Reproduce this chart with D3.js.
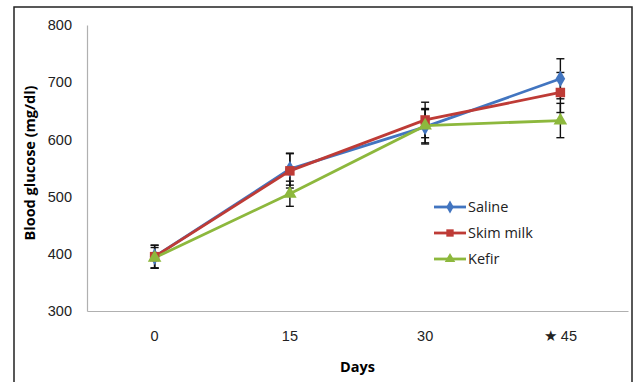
<!DOCTYPE html>
<html>
<head>
<meta charset="utf-8">
<script src="https://cdn.jsdelivr.net/npm/d3@7"></script>
<style>
  body { margin: 0; background: #fff; }
  svg { font-family: "Open Sans", "Noto Sans", sans-serif; }
</style>
</head>
<body>
<svg id="chart" width="643" height="382"></svg>
<script>
const days = ['0', '15', '30', '45'];
const seriesNames = ['Saline', 'Skim milk', 'Kefir'];
const saline = [395, 548, 622, 706];
const salineErr = [20, 28, 30, 35];
const skim = [395, 545, 634, 682];
const skimErr = [20, 30, 31, 35];
const kefir = [393, 505, 624, 633];
const kefirErr = [18, 22, 30, 30];
const yTicks = [300, 400, 500, 600, 700, 800];

const colors = ['#4275C0', '#BE3B36', '#8DB83D'];
const shapes = [d3.symbolDiamond, d3.symbolSquare, d3.symbolTriangle];
const sizes = [80, 90, 80];
const fontSize = 14.5;

const svg = d3.select('#chart');

// outer frame
svg.append('rect')
    .attr('x', 14).attr('y', 7)
    .attr('width', 618).attr('height', 380)
    .attr('fill', 'none')
    .attr('stroke', '#222')
    .attr('stroke-width', 1.5);

const plotLeft = 87, plotRight = 628, plotTop = 25, plotBottom = 311;

const x = d3.scaleBand().domain(days).range([plotLeft, plotRight]);
const y = d3.scaleLinear().domain([300, 800]).range([plotBottom, plotTop]);

// axes
const yAxis = svg.append('g')
    .attr('transform', `translate(${plotLeft},0)`)
    .call(d3.axisLeft(y).tickValues(yTicks).tickSize(0).tickPadding(15));
yAxis.select('.domain').attr('stroke', '#b0b0b0').attr('stroke-width', 1.2);
yAxis.selectAll('text').attr('font-size', fontSize).attr('fill', '#222');

const xAxis = svg.append('g')
    .attr('transform', `translate(0,${plotBottom})`)
    .call(d3.axisBottom(x).tickSize(0).tickPadding(20)
        .tickFormat(d => d === '45' ? '\u2605 45' : d));
xAxis.select('.domain').attr('stroke', '#b0b0b0').attr('stroke-width', 1.2);
xAxis.selectAll('text').attr('font-size', fontSize).attr('fill', '#222');

// axis titles
svg.append('text')
    .attr('x', (plotLeft + plotRight) / 2).attr('y', 372)
    .attr('text-anchor', 'middle')
    .attr('font-size', fontSize).attr('font-weight', 'bold')
    .text('Days');

svg.append('text')
    .attr('transform', `translate(35,${(plotTop + plotBottom) / 2 - 5}) rotate(-90)`)
    .attr('text-anchor', 'middle')
    .attr('font-size', fontSize).attr('font-weight', 'bold')
    .text('Blood glucose (mg/dl)');

const series = [
    { name: seriesNames[0], values: saline, err: salineErr },
    { name: seriesNames[1], values: skim, err: skimErr },
    { name: seriesNames[2], values: kefir, err: kefirErr }
];

const cx = d => x(d) + x.bandwidth() / 2;
const line = d3.line().x((v, i) => cx(days[i])).y(v => y(v));

// lines
series.forEach((s, k) => {
    svg.append('path')
        .datum(s.values)
        .attr('d', line)
        .attr('fill', 'none')
        .attr('stroke', colors[k])
        .attr('stroke-width', 2.8);
});

// error bars
series.forEach((s, k) => {
    const g = svg.append('g').attr('stroke', '#111').attr('stroke-width', 1.4);
    s.values.forEach((v, i) => {
        const px = cx(days[i]);
        const y1 = y(v + s.err[i]), y2 = y(v - s.err[i]);
        g.append('line').attr('x1', px).attr('x2', px).attr('y1', y1).attr('y2', y2);
        g.append('line').attr('x1', px - 4).attr('x2', px + 4).attr('y1', y1).attr('y2', y1);
        g.append('line').attr('x1', px - 4).attr('x2', px + 4).attr('y1', y2).attr('y2', y2);
    });
});

// markers
series.forEach((s, k) => {
    svg.append('g').selectAll('path')
        .data(s.values)
        .enter().append('path')
        .attr('d', d3.symbol().type(shapes[k]).size(sizes[k]))
        .attr('transform', (v, i) => `translate(${cx(days[i])},${y(v)})`)
        .attr('fill', colors[k]);
});

// legend
const legend = svg.append('g').attr('transform', 'translate(434,207)');
series.forEach((s, k) => {
    const row = legend.append('g').attr('transform', `translate(0,${k * 26})`);
    row.append('line')
        .attr('x1', 0).attr('x2', 32)
        .attr('stroke', colors[k]).attr('stroke-width', 2.8);
    row.append('path')
        .attr('d', d3.symbol().type(shapes[k]).size(sizes[k] * 0.6))
        .attr('transform', 'translate(16,0)')
        .attr('fill', colors[k]);
    row.append('text')
        .attr('x', 34).attr('y', 0).attr('dy', '0.35em')
        .attr('font-size', fontSize).attr('fill', '#222')
        .text(s.name);
});
</script>
</body>
</html>
